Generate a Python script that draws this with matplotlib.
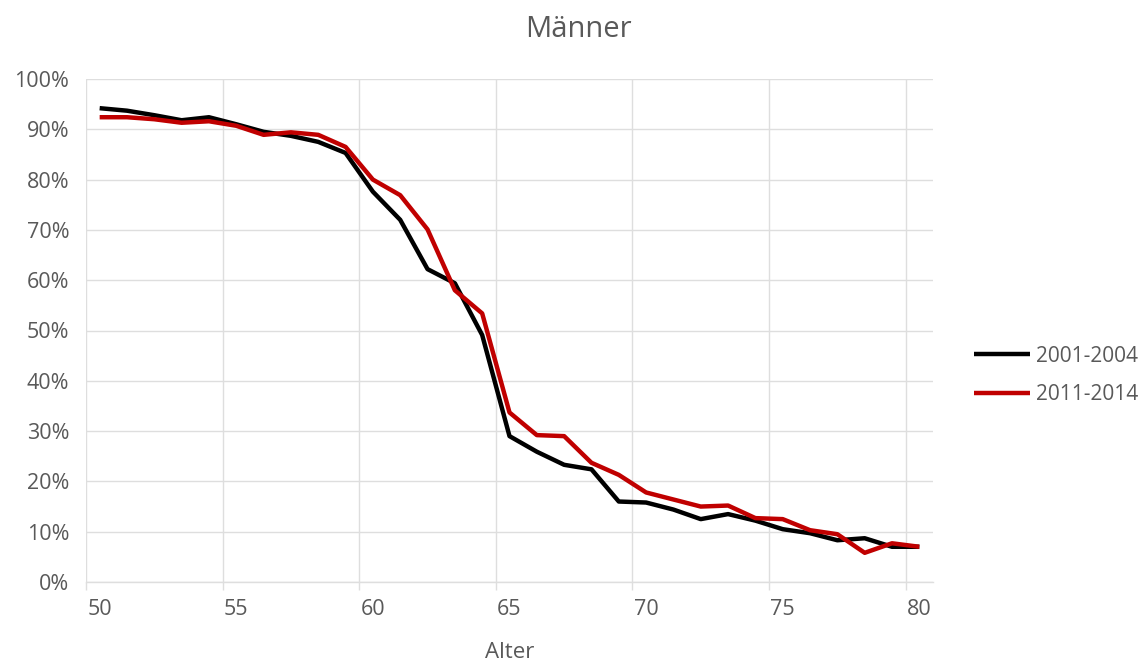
import matplotlib
matplotlib.use("Agg")
import matplotlib.pyplot as plt
from matplotlib.ticker import FixedLocator, FuncFormatter

# ─── Données ─────────────────────────────────────────────────────────────────
ages = list(range(50, 81))

serie_2001_2004 = [94.2, 93.7, 92.8, 91.8, 92.4, 91.0, 89.5, 88.7, 87.5, 85.3,
                   77.6, 72.0, 62.2, 59.4, 49.1, 29.0, 25.9, 23.3, 22.4, 16.0,
                   15.8, 14.4, 12.5, 13.5, 12.2, 10.5, 9.7, 8.3, 8.7, 7.0,
                   7.0]

serie_2011_2014 = [92.4, 92.4, 92.0, 91.3, 91.6, 90.7, 88.9, 89.4, 88.9, 86.5,
                   80.0, 76.9, 70.1, 58.0, 53.4, 33.7, 29.2, 29.0, 23.7, 21.3,
                   17.8, 16.4, 15.0, 15.2, 12.7, 12.5, 10.3, 9.5, 5.8, 7.7,
                   7.0]

libelles = ["2001-2004", "2011-2014"]
couleurs = ["#000000", "#C00000"]

titre = "Männer"
titre_x = "Alter"

GRIS_TEXTE = "#595959"
GRIS_GRILLE = "#DEDEDE"

plt.rcParams["font.family"] = ["Open Sans", "DejaVu Sans"]

# ─── Figure ──────────────────────────────────────────────────────────────────
fig = plt.figure(figsize=(11.4, 6.64), dpi=100)
ax = fig.add_axes([86 / 1140, 1 - 582 / 664, (933 - 86) / 1140, (582 - 79) / 664])

ax.plot(ages, serie_2001_2004, color=couleurs[0], linewidth=3.2,
        label=libelles[0], solid_joinstyle="round", solid_capstyle="butt")
ax.plot(ages, serie_2011_2014, color=couleurs[1], linewidth=3.2,
        label=libelles[1], solid_joinstyle="round", solid_capstyle="butt")

ax.set_xlim(49.5, 80.5)
ax.set_ylim(0, 100)

# axe des catégories : étiquettes au centre, graduations entre catégories
ax.xaxis.set_major_locator(FixedLocator(list(range(50, 81, 5))))
ax.xaxis.set_minor_locator(FixedLocator([a - 0.5 for a in range(50, 81, 5)]))
ax.yaxis.set_major_locator(FixedLocator(list(range(0, 101, 10))))
ax.yaxis.set_major_formatter(FuncFormatter(lambda v, p: f"{v:.0f}%"))

ax.grid(True, which="minor", axis="x", color=GRIS_GRILLE, linewidth=1)
ax.grid(True, which="major", axis="y", color=GRIS_GRILLE, linewidth=1)
ax.set_axisbelow(True)

for cote in ["top", "right", "left"]:
    ax.spines[cote].set_visible(False)
ax.spines["bottom"].set_color(GRIS_GRILLE)
ax.spines["bottom"].set_linewidth(1)

ax.tick_params(axis="x", which="major", length=0, pad=12,
               labelsize=15.5, labelcolor=GRIS_TEXTE)
ax.tick_params(axis="x", which="minor", length=6, width=1,
               color=GRIS_GRILLE, direction="out")
ax.tick_params(axis="y", length=0, pad=12, labelsize=15.5, labelcolor=GRIS_TEXTE)

fig.text(578.7 / 1140, 1 - 36.7 / 664, titre, ha="center", va="baseline",
         fontsize=21, color=GRIS_TEXTE)
fig.text(509.5 / 1140, 1 - 658 / 664, titre_x, ha="center", va="baseline",
         fontsize=16, color=GRIS_TEXTE)

fig.legend(loc="center left", bbox_to_anchor=(955 / 1140, 1 - 375.5 / 664),
           frameon=False, fontsize=15, handlelength=2.7, handletextpad=0.3,
           labelspacing=0.85, labelcolor=GRIS_TEXTE)

fig.savefig("out.png", dpi=100)
